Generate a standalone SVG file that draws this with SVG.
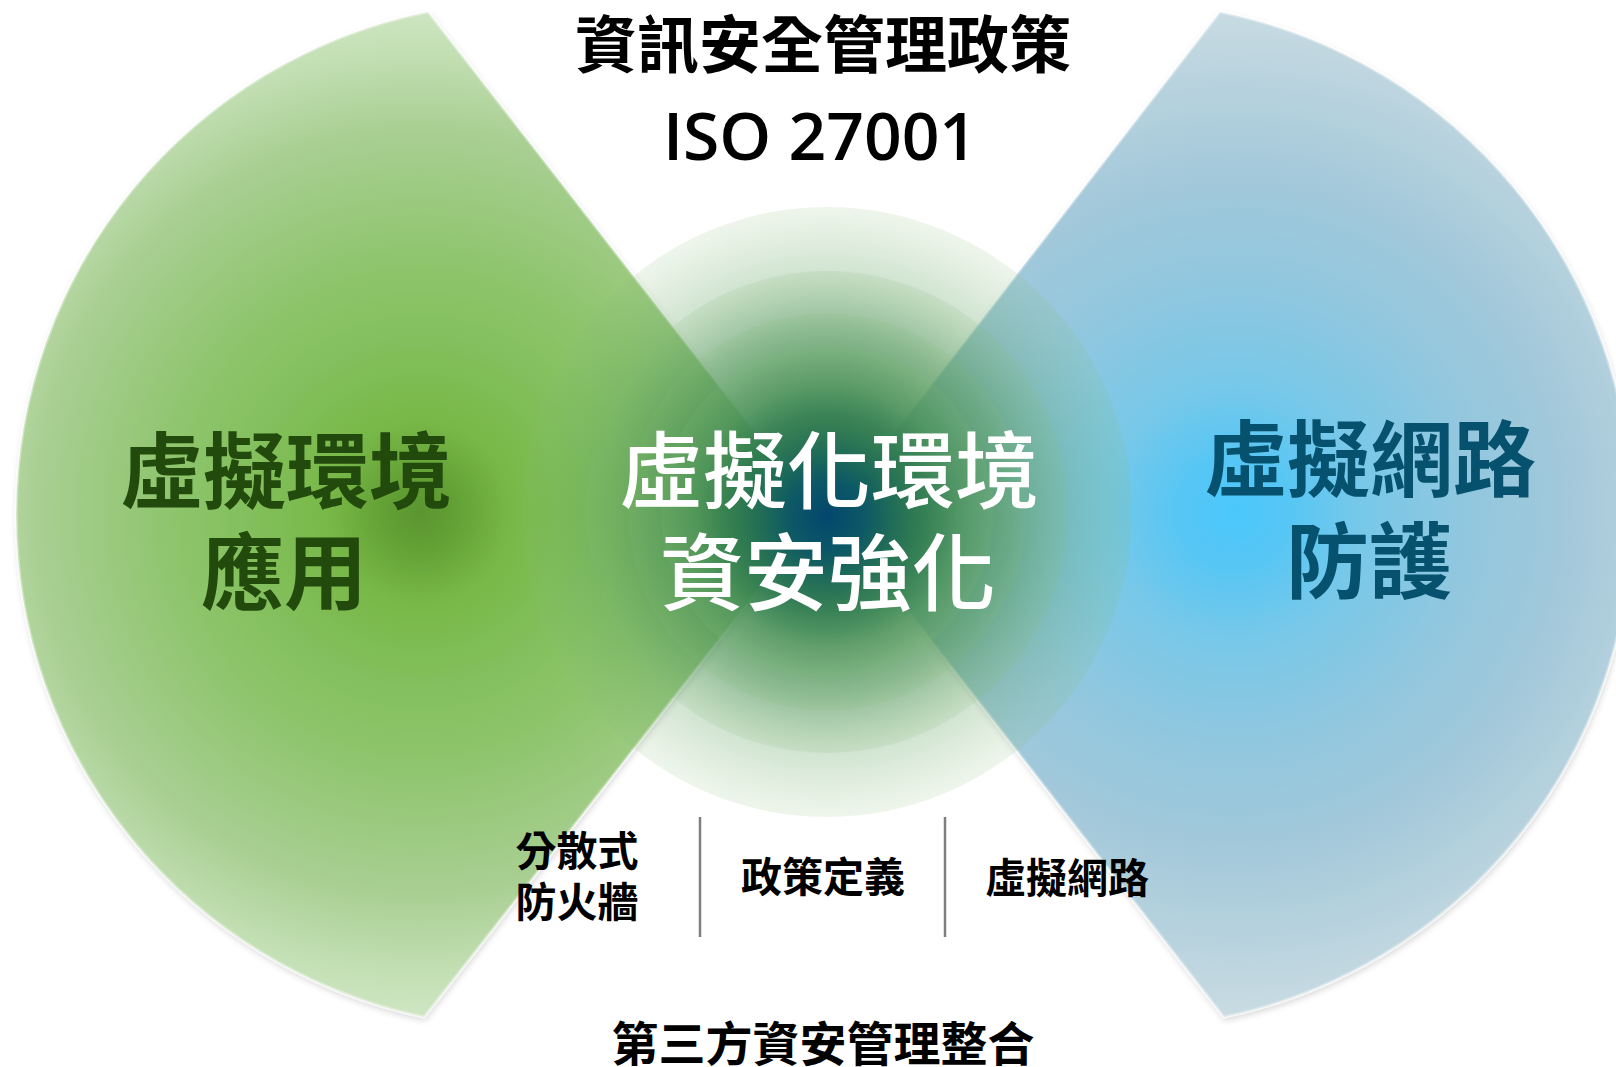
<svg xmlns="http://www.w3.org/2000/svg" width="1616" height="1067" viewBox="0 0 1616 1067">
<defs>
<radialGradient id="gLeft" gradientUnits="userSpaceOnUse" cx="420" cy="512" r="510">
<stop offset="0" stop-color="#5a952f"/>
<stop offset="0.07" stop-color="#63a035"/>
<stop offset="0.18" stop-color="#78b848"/>
<stop offset="0.35" stop-color="#84c05e"/>
<stop offset="0.5" stop-color="#8fc56e"/>
<stop offset="0.75" stop-color="#a9cf93"/>
<stop offset="0.9" stop-color="#c2dfb3"/>
<stop offset="1" stop-color="#d0e6c4"/>
</radialGradient>
<radialGradient id="gRight" gradientUnits="userSpaceOnUse" cx="1234" cy="512" r="510">
<stop offset="0" stop-color="#4cc8fb"/>
<stop offset="0.1" stop-color="#55c6f5"/>
<stop offset="0.25" stop-color="#77c8e9"/>
<stop offset="0.45" stop-color="#90c7df"/>
<stop offset="0.65" stop-color="#a2c8da"/>
<stop offset="0.85" stop-color="#b9d3de"/>
<stop offset="1" stop-color="#cadce3"/>
</radialGradient>
<radialGradient id="gRing">
<stop offset="0" stop-color="#1d6a48" stop-opacity="0.68"/>
<stop offset="0.6" stop-color="#3a864e" stop-opacity="0.42"/>
<stop offset="1" stop-color="#86bc74" stop-opacity="0.14"/>
</radialGradient>
<radialGradient id="gCore">
<stop offset="0" stop-color="#03466e" stop-opacity="1"/>
<stop offset="0.3" stop-color="#0a5668" stop-opacity="0.9"/>
<stop offset="0.7" stop-color="#1f6c50" stop-opacity="0.35"/>
<stop offset="1" stop-color="#2f7d4f" stop-opacity="0"/>
</radialGradient>
<filter id="shadow" x="-10%" y="-10%" width="120%" height="120%">
<feDropShadow dx="1" dy="3" stdDeviation="3" flood-color="#000" flood-opacity="0.16"/>
</filter>
</defs>
<style>
.cjk{font-family:"Noto Sans CJK TC","Noto Sans CJK SC",sans-serif;text-anchor:middle}
.big{font-size:83px;font-weight:bold}
.mid{font-size:84px;font-weight:500;fill:#ffffff}
.small{font-size:41px;font-weight:bold;fill:#000}
.rim{stroke:#ffffff;stroke-opacity:0.35;stroke-width:3}
.sep{stroke:#7f7f7f;stroke-width:2.5}
</style>
<rect width="1616" height="1067" fill="#ffffff"/>

<g id="wedge-left" filter="url(#shadow)">
<path class="rim" d="M428,12 A513,513 0 0,0 424,1017 L818,513 Z" fill="url(#gLeft)"/>
</g>
<g id="wedge-right" filter="url(#shadow)">
<path class="rim" d="M1220,12 A513,513 0 0,1 1224,1017 L832,513 Z" fill="url(#gRight)"/>
</g>

<g id="center-circle">
<circle cx="827" cy="512" r="305" fill="url(#gRing)"/>
<circle cx="827" cy="512" r="241" fill="url(#gRing)"/>
<circle cx="827" cy="512" r="199" fill="url(#gRing)"/>
<circle cx="827" cy="512" r="166" fill="url(#gRing)"/>
<circle cx="827" cy="517" r="130" fill="url(#gCore)"/>
</g>

<g id="title">
<text class="cjk" x="823" y="68" font-size="62" font-weight="bold" fill="#000">資訊安全管理政策</text>
<text x="820" y="160" font-family="'Open Sans','Noto Sans',sans-serif" font-size="66" font-weight="600" text-anchor="middle" fill="#000">ISO 27001</text>
</g>

<g id="node-left">
<text class="cjk big" x="286" y="502" fill="#224a0d">虛擬環境</text>
<text class="cjk big" x="284" y="603" fill="#224a0d">應用</text>
</g>

<g id="node-center">
<text class="cjk mid" x="829" y="502">虛擬化環境</text>
<text class="cjk mid" x="828" y="604">資安強化</text>
</g>

<g id="node-right">
<text class="cjk big" x="1370" y="490" fill="#06516d">虛擬網路</text>
<text class="cjk big" x="1369" y="592" fill="#06516d">防護</text>
</g>

<g id="connectors">
<line class="sep" x1="700" y1="817" x2="700" y2="937"/>
<line class="sep" x1="945" y1="817" x2="945" y2="937"/>
</g>

<g id="node-firewall">
<text class="cjk small" x="577" y="866">分散式</text>
<text class="cjk small" x="577" y="917">防火牆</text>
</g>
<g id="node-policy">
<text class="cjk small" x="823" y="892">政策定義</text>
</g>
<g id="node-vnet">
<text class="cjk small" x="1067" y="893">虛擬網路</text>
</g>
<g id="node-third-party">
<text class="cjk" x="823" y="1061" font-size="47" font-weight="bold" fill="#000">第三方資安管理整合</text>
</g>
</svg>
